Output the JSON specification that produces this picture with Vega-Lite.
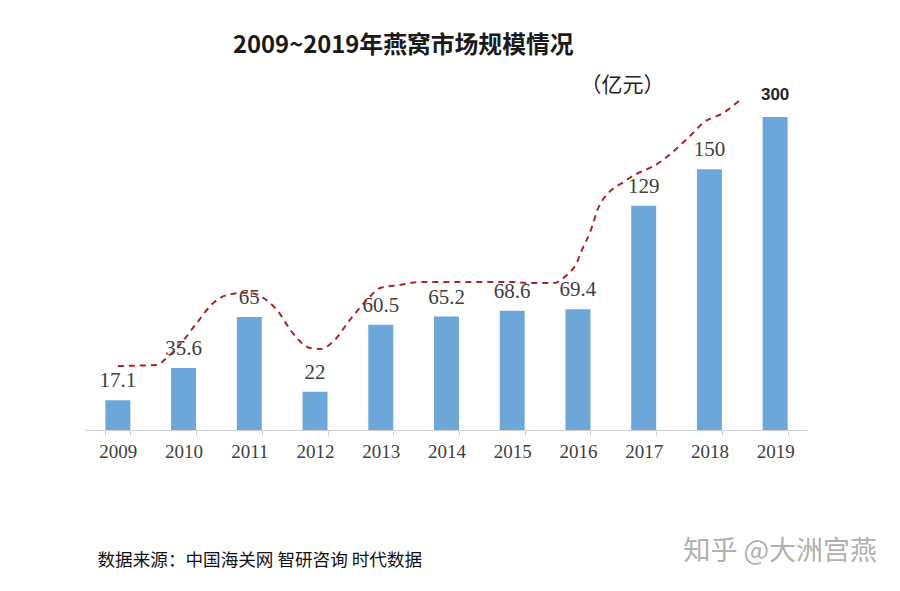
{
  "$schema": "https://vega.github.io/schema/vega-lite/v6.json",
  "width": 723,
  "height": 313,
  "autosize": "none",
  "padding": {"left": 85, "top": 117, "right": 92, "bottom": 161},
  "background": "white",
  "config": {"view": {"stroke": null}},
  "title": {
    "text": "2009~2019年燕窝市场规模情况",
    "font": "Noto Sans CJK SC",
    "fontSize": 23.8,
    "fontWeight": "bold",
    "color": "#1a1a1a",
    "anchor": "start",
    "frame": "group",
    "dx": 148,
    "baseline": "middle",
    "offset": 4
  },
  "layer": [
    {
      "data": {
        "values": [
          {"year": "2009", "value": 17.1, "label": "17.1"},
          {"year": "2010", "value": 35.6, "label": "35.6"},
          {"year": "2011", "value": 65, "label": "65"},
          {"year": "2012", "value": 22, "label": "22"},
          {"year": "2013", "value": 60.5, "label": "60.5"},
          {"year": "2014", "value": 65.2, "label": "65.2"},
          {"year": "2015", "value": 68.6, "label": "68.6"},
          {"year": "2016", "value": 69.4, "label": "69.4"},
          {"year": "2017", "value": 129, "label": "129"},
          {"year": "2018", "value": 150, "label": "150"},
          {"year": "2019", "value": 300, "label": "300"}
        ]
      },
      "encoding": {
        "x": {
          "field": "year",
          "type": "nominal",
          "sort": null,
          "scale": {"paddingInner": 0.62, "paddingOuter": 0.31},
          "axis": {
            "title": "数据来源：中国海关网 智研咨询  时代数据",
            "titleFont": "Noto Sans CJK SC",
            "titleFontSize": 17.6,
            "titleFontWeight": "normal",
            "titleColor": "#111111",
            "titleX": 12,
            "titleY": 130,
            "titleAlign": "left",
            "titleBaseline": "middle",
            "labelAngle": 0,
            "labelFont": "Liberation Serif",
            "labelFontSize": 19,
            "labelColor": "#404040",
            "labelPadding": 7,
            "domainColor": "#d0d0d0",
            "domainWidth": 1,
            "tickColor": "#d0d0d0",
            "tickSize": 5,
            "tickBand": "extent",
            "grid": false
          }
        },
        "y": {
          "field": "value",
          "type": "quantitative",
          "scale": {"domain": [0, 180], "clamp": true, "nice": false},
          "axis": {
            "title": "（亿元）",
            "titleFont": "Noto Sans CJK SC",
            "titleFontSize": 21,
            "titleFontWeight": "normal",
            "titleColor": "#222222",
            "titleAngle": 0,
            "titleX": 537,
            "titleY": -32,
            "titleAlign": "center",
            "titleBaseline": "middle",
            "labels": false,
            "ticks": false,
            "domain": false,
            "grid": false
          }
        }
      },
      "layer": [
        {"mark": {"type": "bar", "color": "#6da7da"}},
        {
          "transform": [{"filter": "datum.year != '2019'"}],
          "mark": {"type": "text", "font": "Liberation Serif", "fontSize": 21, "color": "#404040", "baseline": "middle", "dy": -19},
          "encoding": {"text": {"field": "label"}}
        },
        {
          "transform": [{"filter": "datum.year == '2019'"}],
          "mark": {"type": "text", "font": "Liberation Sans", "fontSize": 17, "fontWeight": "bold", "color": "#262626", "baseline": "middle", "dy": -22},
          "encoding": {"text": {"field": "label"}}
        }
      ]
    },
    {
      "data": {
        "values": [
          {"t": 2009.0, "v": 36.8},
          {"t": 2009.59, "v": 37.4},
          {"t": 2009.74, "v": 41.4},
          {"t": 2009.94, "v": 48.9},
          {"t": 2010.2, "v": 61.5},
          {"t": 2010.45, "v": 73.0},
          {"t": 2010.66, "v": 77.6},
          {"t": 2010.96, "v": 79.0},
          {"t": 2011.16, "v": 77.1},
          {"t": 2011.42, "v": 69.0},
          {"t": 2011.66, "v": 55.8},
          {"t": 2011.92, "v": 47.2},
          {"t": 2012.08, "v": 46.6},
          {"t": 2012.27, "v": 50.6},
          {"t": 2012.53, "v": 63.3},
          {"t": 2012.79, "v": 74.8},
          {"t": 2012.99, "v": 81.7},
          {"t": 2013.29, "v": 83.4},
          {"t": 2013.6, "v": 85.1},
          {"t": 2015.01, "v": 85.1},
          {"t": 2015.22, "v": 84.5},
          {"t": 2015.62, "v": 84.5},
          {"t": 2015.83, "v": 89.1},
          {"t": 2015.98, "v": 96.0},
          {"t": 2016.06, "v": 103.5},
          {"t": 2016.18, "v": 113.3},
          {"t": 2016.33, "v": 129.4},
          {"t": 2016.74, "v": 143.8},
          {"t": 2017.25, "v": 154.1},
          {"t": 2017.75, "v": 170.8},
          {"t": 2017.9, "v": 176.5},
          {"t": 2018.21, "v": 182.3},
          {"t": 2018.5, "v": 190.9}
        ]
      },
      "mark": {"type": "line", "color": "#a8262a", "strokeWidth": 2, "strokeDash": [6, 5], "interpolate": "monotone"},
      "encoding": {
        "x": {
          "field": "t",
          "type": "quantitative",
          "scale": {"domain": [2008.5, 2019.5], "nice": false, "zero": false},
          "axis": {
            "orient": "top",
            "title": "知乎 @大洲宫燕",
            "titleFont": "Noto Sans CJK SC",
            "titleFontSize": 27,
            "titleFontWeight": "normal",
            "titleColor": "#b0b0b0",
            "titleX": 598,
            "titleY": 434,
            "titleAlign": "left",
            "titleBaseline": "middle",
            "labels": false,
            "ticks": false,
            "domain": false,
            "grid": false
          }
        },
        "y": {
          "field": "v",
          "type": "quantitative",
          "scale": {"domain": [0, 180], "nice": false, "zero": true},
          "axis": null
        }
      }
    }
  ],
  "resolve": {
    "scale": {"x": "independent", "y": "independent"},
    "axis": {"x": "independent", "y": "independent"}
  }
}
